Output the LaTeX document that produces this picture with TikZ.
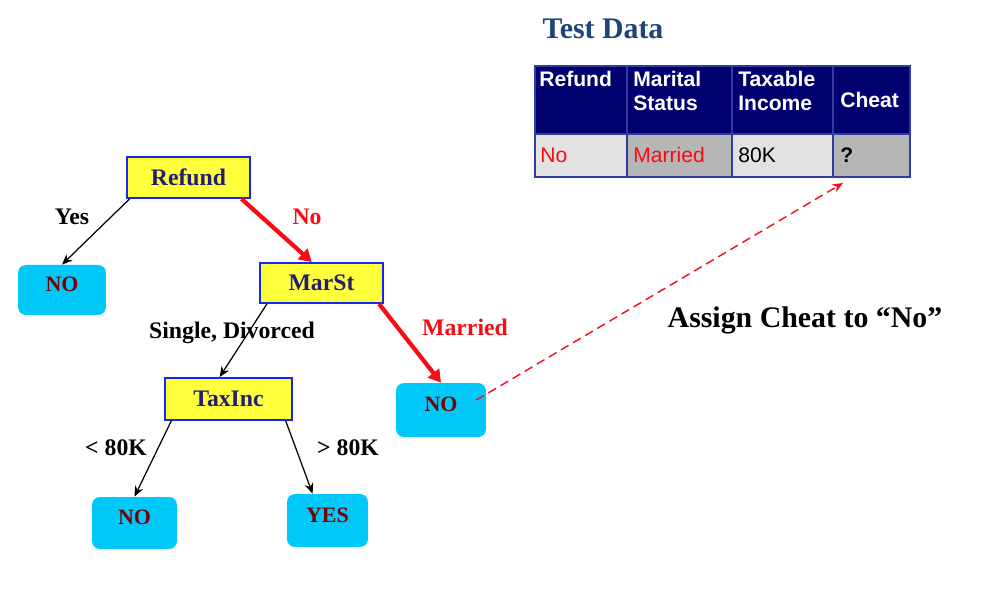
\documentclass[tikz,border=0pt]{standalone}
\usepackage{fontspec}
\setmainfont{Liberation Serif}
\newfontfamily\tablefont{Liberation Sans}
\usepackage{tikz}
\usepackage{xcolor}
\usetikzlibrary{arrows.meta}

\definecolor{boxyellow}{RGB}{255,255,60}
\definecolor{boxblue}{RGB}{20,40,245}
\definecolor{splittext}{RGB}{35,30,115}
\definecolor{leafcyan}{RGB}{0,200,248}
\definecolor{leaftext}{RGB}{120,0,0}
\definecolor{headnavy}{RGB}{0,0,110}
\definecolor{gridblue}{RGB}{50,60,160}
\definecolor{titleblue}{RGB}{28,70,122}
\definecolor{celllight}{RGB}{226,226,226}
\definecolor{celldark}{RGB}{182,182,182}
\definecolor{pathred}{RGB}{250,10,20}

\begin{document}
\begin{tikzpicture}[x={(0.02cm,0)}, y={(0,-0.02cm)},
  split/.style={draw=boxblue, line width=1.1pt, fill=boxyellow, text=splittext,
    font=\fontsize{13.5}{16}\selectfont\bfseries},
  leaf/.style={fill=leafcyan, rounded corners=0.16cm, text=leaftext,
    text height=9pt, text depth=7pt,
    font=\fontsize{12.5}{14}\selectfont\bfseries},
  branch/.style={font=\fontsize{13.5}{16}\selectfont\bfseries},
  plainarrow/.style={line width=0.7pt, -{Stealth[length=6pt,width=5pt]}},
  patharrow/.style={draw=pathred, line width=2.4pt, -{Triangle[length=7pt,width=8pt]}},
  headtext/.style={anchor=base west, inner sep=0pt, text=white,
    font=\tablefont\fontsize{12}{14}\selectfont\bfseries},
  celltext/.style={anchor=base west, inner sep=0pt,
    font=\tablefont\fontsize{12}{14}\selectfont}]
  \useasboundingbox (0,0) rectangle (994,590);

  % Tree nodes
  \node[split, minimum width=2.46cm, minimum height=0.82cm] (refund) at (188.5,177.5) {Refund};
  \node[leaf, minimum width=1.76cm, minimum height=1cm] (leafyes) at (62,290) {NO};
  \node[split, minimum width=2.46cm, minimum height=0.8cm] (marst) at (321.5,283) {MarSt};
  \node[split, minimum width=2.54cm, minimum height=0.84cm] (taxinc) at (228.5,399) {TaxInc};
  \node[leaf, minimum width=1.8cm, minimum height=1.08cm] (leafmarried) at (441,410) {NO};
  \node[leaf, minimum width=1.7cm, minimum height=1.04cm] (leaflow) at (134.5,523) {NO};
  \node[leaf, minimum width=1.62cm, minimum height=1.06cm] (leafhigh) at (327.5,520.5) {YES};

  % Branches
  \draw[plainarrow] (refund.-160) -- (leafyes.north);
  \draw[patharrow] (refund.-22) -- (marst.115);
  \draw[plainarrow] (marst.-159) -- (taxinc.112);
  \draw[patharrow] (marst.-20) -- (leafmarried.north);
  \draw[plainarrow] (taxinc.-159) -- (leaflow.north);
  \draw[plainarrow] (taxinc.-21) -- (leafhigh.119);

  % Branch labels
  \node[branch] (lyes) at (72,217) {Yes};
  \node[branch, text=pathred] (lno) at (307,217) {No};
  \node[branch] (lsingle) at (232,333) {Single, Divorced};
  \node[branch, text=pathred] (lmarried) at (465,327) {Married};
  \node[branch] (llow) at (116,448) {< 80K};
  \node[branch] (lhigh) at (348,448) {> 80K};

  % Test record
  \node[text=titleblue, font=\fontsize{17}{20}\selectfont\bfseries] (title) at (603,29) {Test Data};
  \fill[headnavy] (535,66) rectangle (910,134);
  \fill[celllight] (535,134) rectangle (627,177);
  \fill[celldark] (627,134) rectangle (732,177);
  \fill[celllight] (732,134) rectangle (833,177);
  \fill[celldark] (833,134) rectangle (910,177);
  \foreach \x in {627,732,833}
  {
    \draw[gridblue, line width=0.6pt] (\x,66) -- (\x,177);
  }
  \draw[gridblue, line width=0.6pt] (535,134) -- (910,134);
  \draw[gridblue, line width=0.8pt] (535,66) rectangle (910,177);

  \node[headtext] (hrefund) at (539,87) {Refund};
  \node[headtext] (hmarital) at (633,87) {Marital};
  \node[headtext] (hstatus) at (633,111) {Status};
  \node[headtext] (htaxable) at (738,87) {Taxable};
  \node[headtext] (hincome) at (738,111) {Income};
  \node[headtext] (hcheat) at (840,108) {Cheat};
  \node[celltext, text=pathred] (drefund) at (540,163) {No};
  \node[celltext, text=pathred] (dmarital) at (633,163) {Married};
  \node[celltext] (dincome) at (738,163) {80K};
  \node[celltext, font=\tablefont\fontsize{12}{14}\selectfont\bfseries] (dcheat) at (840,163) {?};
  \coordinate (cheatcell) at (833,177);

  % Assignment
  \draw[pathred, line width=0.8pt, dash pattern=on 5pt off 3pt, -{Stealth[length=6pt,width=5pt]}]
    ([xshift=-0.2cm,yshift=0.2cm]leafmarried.east) -- ([xshift=0.2cm,yshift=-0.12cm]cheatcell);
  \node[font=\fontsize{17}{20}\selectfont\bfseries] (assign) at (805,320) {Assign Cheat to “No”};
\end{tikzpicture}
\end{document}
